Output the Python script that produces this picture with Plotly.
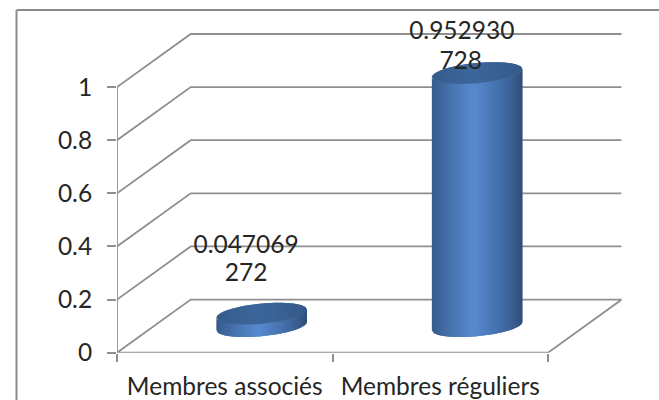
import math
import plotly.graph_objects as go

categories = ["Membres associés", "Membres réguliers"]
values = [0.047069272, 0.952930728]
label_lines = [["0.047069", "272"], ["0.952930", "728"]]
y_ticks = [0, 0.2, 0.4, 0.6, 0.8, 1]
y_tick_labels = ["0", "0.2", "0.4", "0.6", "0.8", "1"]

W, H = 659, 400
X0, X_END = 117.0, 621.7
Y0 = 352.7
Y_UNIT = 265.6
Y_MAX = 1.32
DX, DY = 0.342, 0.2
GRID = "#8f8f8f"
TEXT = "#262626"
FONT = "Lato, Carlito, sans-serif"
HALF_W, K, B = 0.21, 0.0155, 0.038
N = 46


def mix(c1, c2, f):
    return "rgb(%d,%d,%d)" % tuple(round(a + (b - a) * f) for a, b in zip(c1, c2))


def shade(u, edge, light):
    f = max(0.0, 1 - abs(u + 0.08) / 1.08) ** 0.75
    return mix(edge, light, f)


fig = go.Figure()


def poly(xs, ys, color):
    fig.add_trace(go.Scatter(x=xs, y=ys, mode="lines", fill="toself", fillcolor=color,
                             line=dict(width=0), cliponaxis=False,
                             hoverinfo="skip", showlegend=False))


# Walls and floor
for t in y_ticks[1:]:
    fig.add_trace(go.Scatter(x=[0, DX, 2 + DX], y=[t, t + DY, t + DY], mode="lines",
                             line=dict(color=GRID, width=1.8), cliponaxis=False,
                             hoverinfo="skip", showlegend=False))
fig.add_trace(go.Scatter(x=[0, DX, 2 + DX, 2, 0], y=[0, DY, DY, 0, 0], mode="lines",
                         line=dict(color=GRID, width=1.8), cliponaxis=False,
                         hoverinfo="skip", showlegend=False))
fig.add_trace(go.Scatter(x=[0, 0], y=[0, 1], mode="lines",
                         line=dict(color=GRID, width=1.8), cliponaxis=False,
                         hoverinfo="skip", showlegend=False))

# Cylinders: vertical strips, each overlapping its neighbour so no seams show
for i, v in enumerate(values):
    cx = i + 0.5 + DX / 2
    base = DY / 2
    top = base + v
    us = [-1 + 2 * j / N for j in range(N + 1)]
    for j in range(N):
        a, b = us[j], us[min(j + 2, N)]
        ua = [a + (b - a) * s / 5 for s in range(6)]
        low = [base + K * u - B * math.sqrt(max(0, 1 - u * u)) for u in ua]
        high = [top + K * u - B * math.sqrt(max(0, 1 - u * u)) for u in ua]
        xs = [cx + HALF_W * u for u in ua]
        poly(xs + xs[::-1], low + high[::-1], shade(us[j] + 1 / N, (44, 75, 118), (86, 138, 208)))
    for j in range(N):
        a, b = us[j], us[min(j + 2, N)]
        ua = [a + (b - a) * s / 5 for s in range(6)]
        low = [top + K * u - B * math.sqrt(max(0, 1 - u * u)) for u in ua]
        high = [top + K * u + B * math.sqrt(max(0, 1 - u * u)) for u in ua]
        xs = [cx + HALF_W * u for u in ua]
        poly(xs + xs[::-1], low + high[::-1], shade(us[j] + 1 / N, (52, 88, 134), (60, 102, 155)))

# Data labels, one point per line
lab_x = [[0.599, 0.599], [1.6, 1.595]]
lab_y = [[0.397, 0.292], [1.205, 1.09]]
for xs, ys, lines in zip(lab_x, lab_y, label_lines):
    fig.add_trace(go.Scatter(x=xs, y=ys, mode="text", text=lines, textposition="middle center",
                             textfont=dict(family=FONT, size=24.5, color=TEXT), cliponaxis=False,
                             hoverinfo="skip", showlegend=False))

fig.update_layout(
    width=W, height=H, margin=dict(l=0, r=0, t=0, b=0, pad=0, autoexpand=False),
    paper_bgcolor="white", plot_bgcolor="white", showlegend=False,
    xaxis=dict(domain=[X0 / W, X_END / W], range=[0, 2 + DX], showgrid=False, zeroline=False,
               showline=False, tickmode="array", tickvals=[0.5, 1.5], ticktext=categories,
               ticks="", automargin=False, ticklabelstandoff=17,
               tickfont=dict(family=FONT, size=24.5, color=TEXT),
               minor=dict(tickmode="array", tickvals=[0, 1, 2], ticks="outside", ticklen=8,
                          tickwidth=1.8, tickcolor=GRID, showgrid=False)),
    yaxis=dict(domain=[1 - Y0 / H, 1 - (Y0 - Y_UNIT * Y_MAX) / H], range=[0, Y_MAX], showgrid=False,
               zeroline=False, showline=False, tickmode="array", tickvals=y_ticks, automargin=False,
               ticktext=y_tick_labels, ticks="outside", ticklen=9, tickwidth=1.8, tickcolor=GRID,
               ticklabelstandoff=10, tickfont=dict(family=FONT, size=24.5, color=TEXT)),
    shapes=[
        dict(type="line", xref="paper", yref="paper", x0=16.5 / W, x1=1, y0=1 - 10 / H, y1=1 - 10 / H,
             line=dict(color="#8c8c8c", width=2)),
        dict(type="line", xref="paper", yref="paper", x0=16.5 / W, x1=16.5 / W, y0=0, y1=1 - 10 / H,
             line=dict(color="#8c8c8c", width=2)),
    ],
)
fig.write_html("out.html", config=dict(displayModeBar=False),
               post_script="document.body.style.margin='0';document.body.style.overflow='hidden';")
